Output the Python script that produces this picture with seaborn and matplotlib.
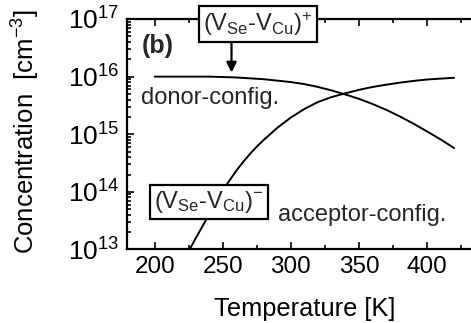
import numpy as np
import pandas as pd
import seaborn as sns
import matplotlib
matplotlib.use("Agg")
import matplotlib.pyplot as plt
from matplotlib.ticker import LogLocator, NullFormatter, MultipleLocator

# Temperature [K] and concentrations [cm^-3] of the two defect configurations
temp_donor = [200, 220, 240, 260, 280, 300, 310, 320, 330, 340, 350, 360, 370, 380, 390, 400, 410, 420]
conc_donor = [1.0e16, 1.0e16, 1.0e16, 9.66e15, 9.02e15, 8.04e15, 7.41e15, 6.61e15, 5.75e15,
              4.9e15, 4.12e15, 3.35e15, 2.66e15, 2.04e15, 1.53e15, 1.12e15, 8.13e14, 5.75e14]

temp_acceptor = [224, 230, 235, 240, 245, 250, 255, 260, 265, 270, 275, 280, 285, 290, 300,
                 310, 320, 330, 340, 350, 360, 370, 380, 390, 400, 410, 420]
conc_acceptor = [8.5e12, 1.55e13, 2.51e13, 4.07e13, 6.6e13, 1.05e14, 1.58e14, 2.34e14,
                 3.31e14, 4.57e14, 6.1e14, 7.94e14, 1.01e15, 1.29e15, 1.95e15, 2.75e15,
                 3.63e15, 4.42e15, 5.13e15, 5.89e15, 6.61e15, 7.24e15, 7.85e15, 8.41e15,
                 8.91e15, 9.23e15, 9.55e15]

xticks = [200, 250, 300, 350, 400]

sns.set_style("ticks")
plt.rcParams["font.family"] = ["Liberation Sans", "DejaVu Sans"]
plt.rcParams["mathtext.fontset"] = "custom"
plt.rcParams["mathtext.rm"] = "Liberation Sans"
plt.rcParams["mathtext.it"] = "Liberation Sans:italic"
plt.rcParams["mathtext.bf"] = "Liberation Sans:bold"
FS = 17

fig = plt.figure(figsize=(4.71, 3.23), dpi=100)
ax = fig.add_axes([0.2707, 0.2276, 0.7514, 0.7136])

df_d = pd.DataFrame({"T": temp_donor, "N": conc_donor})
df_a = pd.DataFrame({"T": temp_acceptor, "N": conc_acceptor})
sns.lineplot(data=df_d, x="T", y="N", ax=ax, color="black", lw=1.4)
sns.lineplot(data=df_a, x="T", y="N", ax=ax, color="black", lw=1.4)

ax.set_yscale("log")
ax.set_ylim(1e13, 1e17)
ax.set_xlim(180, 440)
ax.set_xticks(xticks)
ax.xaxis.set_minor_locator(MultipleLocator(25))
ax.yaxis.set_major_locator(LogLocator(base=10, numticks=10))
ax.yaxis.set_minor_locator(LogLocator(base=10, subs=np.arange(2, 10), numticks=20))
ax.yaxis.set_minor_formatter(NullFormatter())

for side in ["left", "bottom", "top"]:
    ax.spines[side].set_linewidth(1.6)
    ax.spines[side].set_color("black")
ax.spines["right"].set_visible(False)

ax.tick_params(which="both", direction="in", top=True, right=False, width=1.2,
               color="black", labelcolor="black")
ax.tick_params(which="major", length=5)
ax.tick_params(which="minor", length=3)
ax.tick_params(axis="x", pad=5, labelsize=17.5)
ax.tick_params(axis="y", pad=6, labelsize=19)

ax.set_xlabel("Temperature [K]", fontsize=18.3, color="black")
ax.xaxis.set_label_coords(0.5016, -0.208)
ax.set_ylabel(r"Concentration  [cm$^{-3}$]", fontsize=18.5, color="black")
ax.yaxis.set_label_coords(-0.2416, 0.512)

ax.text(202.2, 10**16.53, "(b)", fontsize=18, fontweight="bold", ha="center", va="center")

box = dict(boxstyle="square,pad=0.18", facecolor="white", edgecolor="black", linewidth=1.6)
ax.text(275.9, 10**16.913, r"(V$_{\mathregular{Se}}$-V$_{\mathregular{Cu}}$)$^{+}$",
        fontsize=FS, ha="center", va="center", bbox=box, zorder=6, clip_on=False)
ax.annotate("", xy=(256.4, 10**16.07), xytext=(256.4, 10**16.58),
            arrowprops=dict(arrowstyle="-|>,head_length=0.6,head_width=0.3",
                            color="black", lw=1.6, shrinkA=0, shrinkB=0), zorder=5)

ax.text(240.0, 10**13.826, r"(V$_{\mathregular{Se}}$-V$_{\mathregular{Cu}}$)$^{-}$",
        fontsize=FS, ha="center", va="center", bbox=box, zorder=6)

ax.text(189.7, 10**15.626, "donor-config.", fontsize=FS, ha="left", va="center")
ax.text(290.2, 10**13.59, "acceptor-config.", fontsize=FS, ha="left", va="center")

fig.savefig("out.png", dpi=100)
